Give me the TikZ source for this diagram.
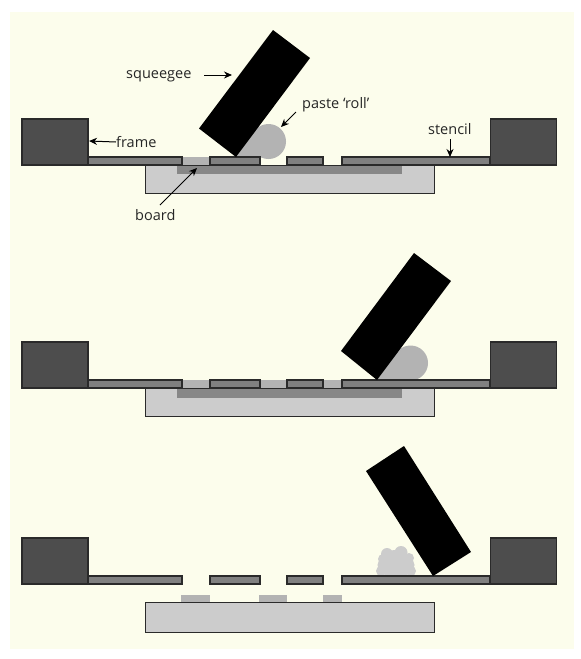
\documentclass[tikz,border=0pt]{standalone}
\usepackage{fontspec}
\setmainfont{Open Sans}
\usetikzlibrary{arrows.meta}
\definecolor{bgc}{HTML}{FCFDEC}
\definecolor{framec}{HTML}{4D4D4D}
\definecolor{stencilc}{HTML}{808080}
\definecolor{boardc}{HTML}{CCCCCC}
\definecolor{padc}{HTML}{878787}
\definecolor{pastec}{HTML}{B3B3B3}
\definecolor{linec}{HTML}{2A2A2A}
\tikzset{
  frameblock/.style={fill=framec,draw=linec,line width=1.1pt},
  stencilbar/.style={fill=stencilc,draw=linec,line width=1.1pt},
  boardblock/.style={fill=boardc,draw=linec,line width=1pt},
  padstrip/.style={fill=padc},
  pastefill/.style={fill=pastec},
  blobfill/.style={fill=boardc},
  squeegee/.style={fill=black},
  lab/.style={inner sep=0pt,font=\fontsize{14.5}{16}\selectfont,text=black!85},
  callout/.style={draw=black,line width=1pt,-{Stealth[length=8pt,width=7pt]}}
}
\newcommand{\rigbase}[1]{%
  \draw[stencilbar] (88,#1+38) rectangle (182,#1+46);
  \draw[stencilbar] (210,#1+38) rectangle (260,#1+46);
  \draw[stencilbar] (287,#1+38) rectangle (323,#1+46);
  \draw[stencilbar] (342,#1+38) rectangle (490,#1+46);
  \draw[frameblock] (22,#1) rectangle (88,#1+46);
  \draw[frameblock] (490.5,#1) rectangle (556.5,#1+46);
}
\begin{document}
\begin{tikzpicture}[x=1pt,y=-1pt]
\useasboundingbox (0,0) rectangle (581,659);
\fill[white] (0,0) rectangle (581,659);
\fill[bgc] (10,12) rectangle (574,649);

% panel 1
\draw[boardblock] (145,165) rectangle (434,193);
\fill[padstrip] (177,165.5) rectangle (402,174);
\fill[pastefill] (182,157) rectangle (210,165);
\fill[pastefill] (268.5,141.5) circle[radius=17.5];
\fill[pastefill] (236,157) -- (258,127) -- (268,141) -- (270,157.5) -- cycle;
\rigbase{119}
\fill[squeegee] (273,30) -- (310,58) -- (236,157) -- (199,128.5) -- cycle;

% panel 2
\draw[boardblock] (145,388) rectangle (434,416.5);
\fill[padstrip] (177,388.5) rectangle (402,397.5);
\fill[pastefill] (182,380) rectangle (210,388);
\fill[pastefill] (260,380) rectangle (287,388);
\fill[pastefill] (323,380) rectangle (342,388);
\fill[pastefill] (410.5,363) circle[radius=17.5];
\fill[pastefill] (377,380) -- (399,350) -- (410.5,363) -- (412,380.5) -- cycle;
\rigbase{342}
\fill[squeegee] (414,253) -- (451,281) -- (377,380) -- (341,351) -- cycle;

% panel 3
\draw[boardblock] (145,602) rectangle (434,632);
\fill[pastefill] (181,595) rectangle (210,601.5);
\fill[pastefill] (259,595) rectangle (287,601.5);
\fill[pastefill] (323,595) rectangle (342,601.5);
\begin{scope}[blobfill]
\fill (396,565) ellipse[x radius=18.5,y radius=12];
\fill (387,554) circle[radius=6];
\fill (401,552.5) circle[radius=6.5];
\fill (394,556) circle[radius=6];
\fill (409,558) circle[radius=5];
\fill (383,559) circle[radius=5];
\fill (381,571) circle[radius=5];
\fill (411,571) circle[radius=5];
\fill (396,572) ellipse[x radius=14,y radius=4.5];
\end{scope}
\rigbase{538}
\fill[squeegee] (404,446) -- (471,552) -- (433,576) -- (366,471) -- cycle;

% labels and callouts
\node[lab,anchor=west] (squeegeelab) at (126,76) {squeegee};
\node[lab,anchor=west] (framelab) at (116,142) {frame};
\node[lab,anchor=west] (boardlab) at (135,215) {board};
\node[lab,anchor=west] (pastelab) at (302,105) {paste ‘roll’};
\node[lab,anchor=west] (stencillab) at (428,129) {stencil};
\coordinate (squeegeeend) at (232,75);
\coordinate (frameend) at (89,141);
\coordinate (boardend) at (197,168);
\coordinate (pasteend) at (281,127);
\coordinate (stencilend) at (450,157);
\coordinate (squeegeestart) at (204,75);
\coordinate (boardstart) at (160,205);
\coordinate (pastestart) at (296,112);
\coordinate (stencilstart) at (450,139);
\draw[callout] (squeegeestart) -- (squeegeeend);
\draw[callout] (framelab.west) -- (frameend);
\draw[callout] (boardstart) -- (boardend);
\draw[callout] (pastestart) -- (pasteend);
\draw[callout] (stencilstart) -- (stencilend);
\end{tikzpicture}
\end{document}
